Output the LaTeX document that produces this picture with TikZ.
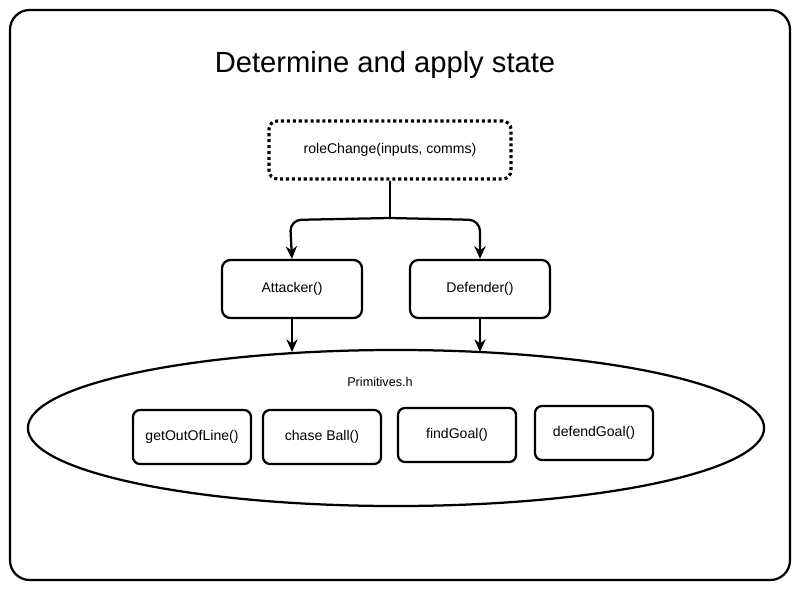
\documentclass[tikz,border=0pt]{standalone}
\usepackage{fontspec}
\setmainfont{Liberation Sans}
\usetikzlibrary{arrows.meta,shapes.geometric}
\begin{document}
\begin{tikzpicture}[x=0.025cm, y=-0.025cm, line width=1.6pt,
    funcbox/.style={draw, rounded corners=6pt, minimum height=1.45cm, align=center, font=\normalsize},
    primbox/.style={draw, rounded corners=5pt, minimum width=2.95cm, minimum height=1.35cm, font=\normalsize},
    flow/.style={-{Stealth[length=9pt,width=8pt]}}]
      \useasboundingbox (0,0) rectangle (800,589);
      %% frame
      \draw[rounded corners=14pt] (10,10) rectangle (790,580);
      \node (title) at (385,65) {\huge Determine and apply state};

      %% role selection
      \node[funcbox, dotted, line width=2.2pt, minimum width=6.05cm] (role) at (390,150) {roleChange(inputs, comms)};
      \node[funcbox, minimum width=3.5cm] (att) at (292,289) {Attacker()};
      \node[funcbox, minimum width=3.5cm] (def) at (480,289) {Defender()};
      \coordinate (split) at (390,218);
      \draw (role.south) -- (split);
      \draw[flow, rounded corners=8pt] (split) -- (290,220) -- (att.north);
      \draw[flow, rounded corners=8pt] (split) -- (480,220) -- (def.north);

      %% primitives
      \node[draw, ellipse, minimum width=18.4cm, minimum height=3.9cm] (prims) at (396,428) {};
      \node[font=\small] (primlabel) at (380,382) {Primitives.h};
      \draw[flow] (att.south) -- (292,352);
      \draw[flow] (def.south) -- (480,352);

      \node[primbox] (getout) at (192,437) {getOutOfLine()};
      \node[primbox] (chase) at (322,437) {chase Ball()};
      \node[primbox] (find) at (457,435) {findGoal()};
      \node[primbox] (defend) at (594,433) {defendGoal()};
\end{tikzpicture}
\end{document}
